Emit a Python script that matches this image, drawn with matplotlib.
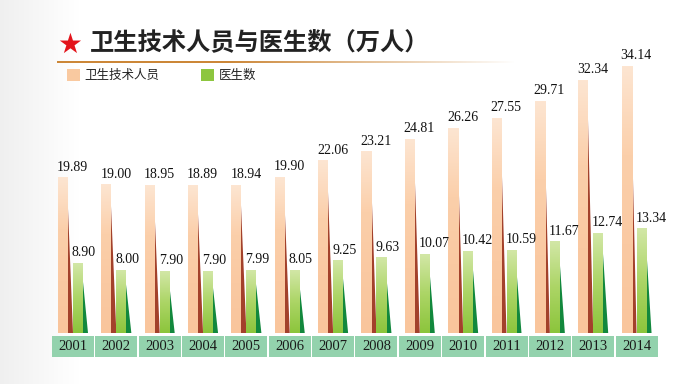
import numpy as np
import matplotlib
matplotlib.use("Agg")
import matplotlib.pyplot as plt
from matplotlib.patches import Polygon, Rectangle
from matplotlib.colors import LinearSegmentedColormap

plt.rcParams['font.family'] = ['Noto Sans CJK SC', 'DejaVu Sans']

# 数据
years = ['2001', '2002', '2003', '2004', '2005', '2006', '2007',
         '2008', '2009', '2010', '2011', '2012', '2013', '2014']
tech_staff = [19.89, 19.00, 18.95, 18.89, 18.94, 19.90, 22.06,
              23.21, 24.81, 26.26, 27.55, 29.71, 32.34, 34.14]
doctors = [8.90, 8.00, 7.90, 7.90, 7.99, 8.05, 9.25,
           9.63, 10.07, 10.42, 10.59, 11.67, 12.74, 13.34]
title = '卫生技术人员与医生数（万人）'
legend_labels = ['卫生技术人员', '医生数']

W, H = 700, 384
fig = plt.figure(figsize=(W / 100, H / 100), dpi=100)
fig.patch.set_facecolor('white')

# 背景左侧淡灰
bax = fig.add_axes([0, 0, 1, 1], zorder=-1)
bax.set_axis_off()
bg = np.ones((1, 256, 4))
bg[..., :3] = 0.90
bg[..., 3] = np.clip(1 - np.linspace(0, 1, 256) * 9, 0, 1) * 0.6
bax.imshow(bg, aspect='auto', extent=[0, 1, 0, 1])

# 像素 -> 数据
px_x = 43.35       # 每组间距(像素)
px_y = 7.8         # 每万人像素
x0_px, base_px = 73, 333
ax = fig.add_axes([0, 0, 1, 1])
ax.set_axis_off()
ax.patch.set_alpha(0)
xlim = (-x0_px / px_x, (W - x0_px) / px_x)
ylim = ((base_px - H) / px_y, base_px / px_y)

def px(n):
    return n / px_x

orange_cmap = LinearSegmentedColormap.from_list('o', ['#f9c59c', '#fac9a2', '#fbcfaa', '#fde5d1'])
green_cmap = LinearSegmentedColormap.from_list('g', ['#8cc53c', '#acd566', '#d2e7a6'])
grad = np.linspace(0, 1, 100).reshape(-1, 1)

serif = ['Liberation Serif', 'DejaVu Serif']

for i, (a, b) in enumerate(zip(tech_staff, doctors)):
    # 卫生技术人员 柱
    l = i + px(-15)
    r = i + px(-5)
    ax.add_patch(Polygon([(r - px(1), a - 6 / px_y), (r + px(5), 0), (r - px(1), 0)],
                         closed=True, facecolor='#a3412b', edgecolor='none', zorder=2))
    ax.imshow(grad, extent=[l, r, 0, a], origin='lower', cmap=orange_cmap,
              aspect='auto', zorder=3)
    ax.text(l - px(1), a + 0.55, f'{a:.2f}', ha='left', va='bottom',
            fontsize=10, family=serif, color='#111111', zorder=5)
    # 医生数 柱
    l2 = i + px(0)
    r2 = i + px(10)
    ax.add_patch(Polygon([(r2 - px(1), b - 8 / px_y), (r2 + px(5), 0), (r2 - px(1), 0)],
                         closed=True, facecolor='#12883d', edgecolor='none', zorder=3))
    ax.imshow(grad, extent=[l2, r2, 0, b], origin='lower', cmap=green_cmap,
              aspect='auto', zorder=4)
    ax.text(l2 - px(1), b + 0.55, f'{b:.2f}', ha='left', va='bottom',
            fontsize=10, family=serif, color='#111111', zorder=5)

# 年份框
x = np.arange(len(years))
box_top = -3 / px_y
box_bot = -24 / px_y
ax.bar(x, box_top - box_bot, bottom=box_bot, width=px(42), color='#93d2ad',
       edgecolor='none', zorder=2)
for i, y in enumerate(years):
    ax.text(i, (box_top + box_bot) / 2, y, ha='center', va='center',
            fontsize=10.5, family=serif, color='#1a1a1a', zorder=5)

ax.set_xlim(*xlim)
ax.set_ylim(*ylim)

# 标题
fig.text(57 / W, 1 - 45 / H, '★', fontsize=20, color='#e3141b',
         family='DejaVu Sans', ha='left', va='center')
fig.text(90 / W, 1 - 43 / H, title, fontsize=17.5, fontweight='bold',
         color='#222222', ha='left', va='center')

# 标题下划线(渐变)
lax = fig.add_axes([57 / W, 1 - 63 / H, (W - 57) / W, 2.5 / H])
lax.set_axis_off()
line = np.zeros((1, 256, 4))
line[..., 0] = 0.80
line[..., 1] = 0.53
line[..., 2] = 0.22
line[..., 3] = np.clip(1.6 - np.linspace(0, 1.6, 256) * 1.4, 0, 1)
lax.imshow(line, aspect='auto', extent=[0, 1, 0, 1])

# 图例
fig.patches.append(Rectangle((67 / W, 1 - 81 / H), 13 / W, 12 / H,
                             transform=fig.transFigure, facecolor='#f9c9a0',
                             edgecolor='none'))
fig.text(84 / W, 1 - 75 / H, legend_labels[0], fontsize=9, color='#222222',
         ha='left', va='center')
fig.patches.append(Rectangle((201 / W, 1 - 81 / H), 13 / W, 12 / H,
                             transform=fig.transFigure, facecolor='#8dc63f',
                             edgecolor='none'))
fig.text(219 / W, 1 - 75 / H, legend_labels[1], fontsize=9, color='#222222',
         ha='left', va='center')

fig.savefig('out.png', dpi=100)
